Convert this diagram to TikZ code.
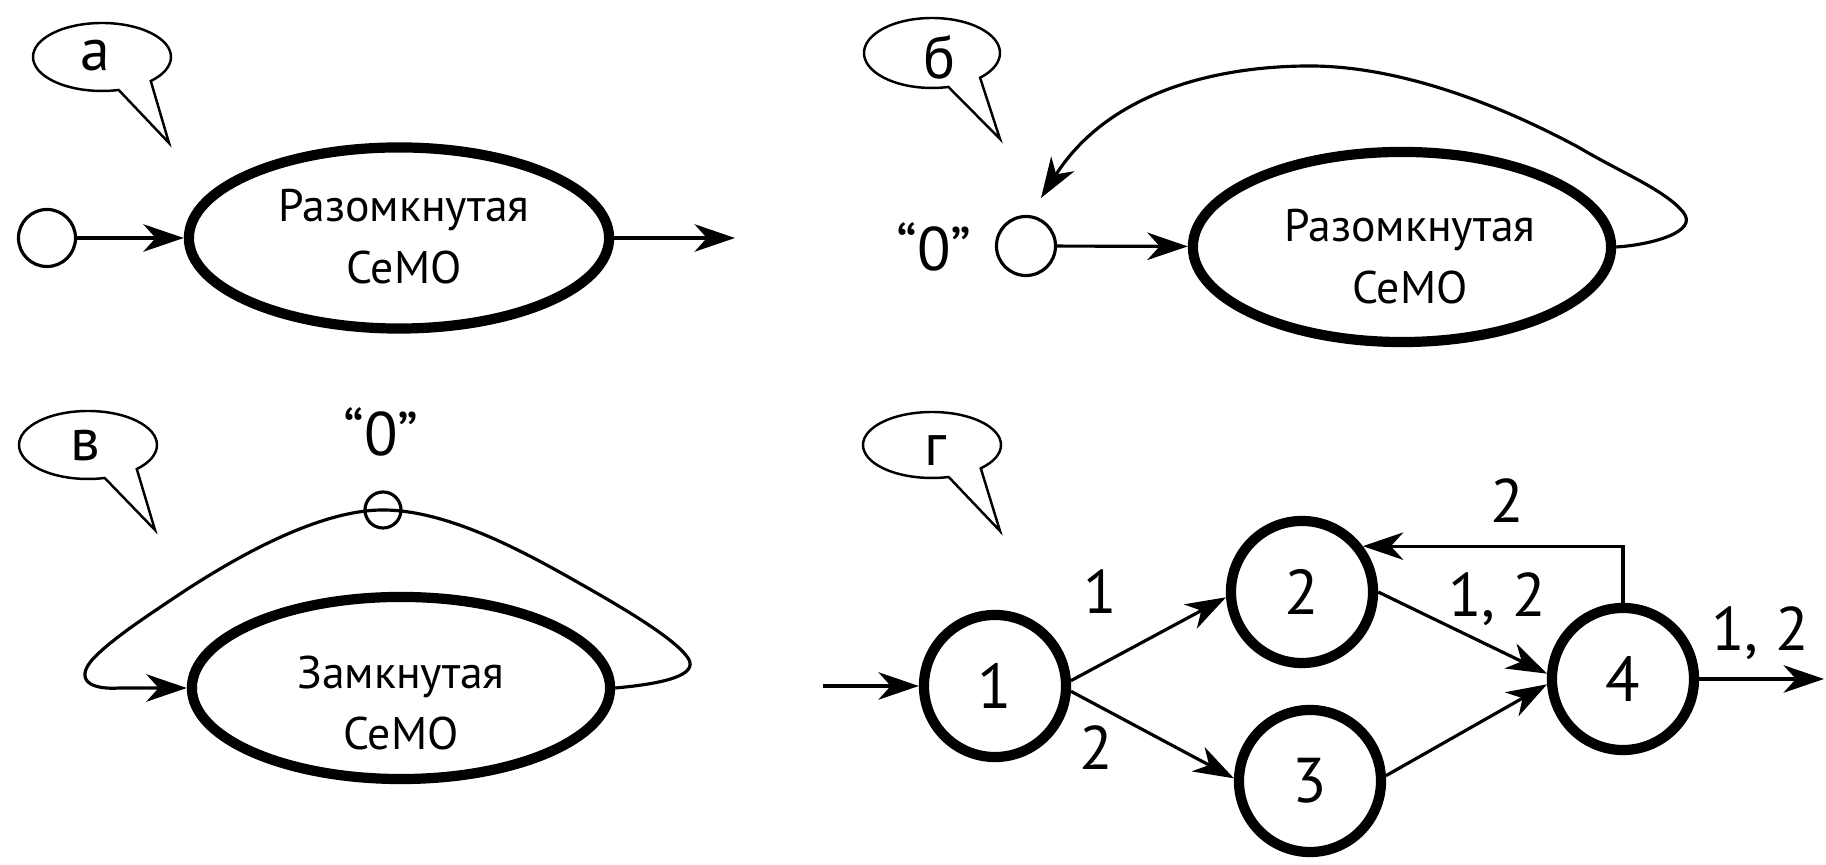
\documentclass[tikz,border=0pt]{standalone}
\usepackage{fontspec}
\setmainfont{PT Sans}
\usetikzlibrary{arrows.meta,shapes.geometric}
\begin{document}
\begin{tikzpicture}[x=0.01cm,y=0.01cm,
  conn/.style={line width=0.9pt},
  arr/.style={conn,-{Stealth[length=11.5pt,width=7.8pt,inset=3.5pt]}},
  bubbleline/.style={line width=0.7pt, line join=miter},
  bubtxt/.style={font=\fontsize{17}{20}\selectfont, inner sep=0pt},
  qtxt/.style={font=\fontsize{13}{17.6}\selectfont, align=center, inner sep=0pt},
  numtxt/.style={font=\fontsize{17.5}{21}\selectfont, inner sep=0pt},
  semo/.style={draw, ellipse, line width=2.9pt, inner sep=0pt},
  srcring/.style={draw, circle, conn, inner sep=0pt},
  station/.style={draw, circle, line width=2.9pt, minimum size=1.42cm, inner sep=0pt,
                  font=\fontsize{18}{21}\selectfont},
]
\useasboundingbox (0,0) rectangle (1826,-865);

% --- а: open network ---
\draw[bubbleline] (102,-57) ++(-45:69 and 34)
  arc[start angle=-45,end angle=284,x radius=69,y radius=34] -- (169,-143) -- cycle;
\node[bubtxt] (tagA) at (95,-56) {а};
\node[srcring, minimum size=0.57cm] (srcA) at (47,-238) {};
\node[semo, minimum width=4.2cm, minimum height=1.81cm] (ellA) at (399,-238) {};
\node[qtxt] (txtA) at (404,-237) {Разомкнутая\\СеМО};
\coordinate (outA) at (735,-238);
\draw[arr] (srcA) -- (ellA);
\draw[arr] (ellA) -- (outA);

% --- б: open network with feedback to the source ---
\draw[bubbleline] (932,-53) ++(-45:68 and 35)
  arc[start angle=-45,end angle=284,x radius=68,y radius=35] -- (1000,-139) -- cycle;
\node[bubtxt] (tagB) at (940,-57) {б};
\node[srcring, minimum size=0.59cm] (srcB) at (1026,-246) {};
\node[numtxt] (zeroB) at (934,-247) {“0”};
\node[semo, minimum width=4.18cm, minimum height=1.9cm] (ellB) at (1402,-247) {};
\node[qtxt] (txtB) at (1410,-257) {Разомкнутая\\СеМО};
\coordinate (tipB) at (1041,-198);
\draw[arr] (srcB) -- (ellB);
\draw[arr] (ellB.east) .. controls (1650,-245) and (1700,-232) .. (1683,-212)
  .. controls (1665,-190) and (1620,-172) .. (1578,-147)
  .. controls (1500,-105) and (1400,-66) .. (1310,-66)
  .. controls (1220,-66) and (1110,-90) .. (tipB);

% --- в: closed network ---
\draw[bubbleline] (88,-445) ++(-45:69 and 34)
  arc[start angle=-45,end angle=284,x radius=69,y radius=34] -- (155,-530) -- cycle;
\node[bubtxt] (tagC) at (85,-446) {в};
\node[numtxt] (zeroC) at (381,-432) {“0”};
\node[srcring, minimum size=0.36cm] (srcC) at (383,-510) {};
\node[semo, minimum width=4.18cm, minimum height=1.82cm] (ellC) at (401,-688) {};
\node[qtxt] (txtC) at (401,-703) {Замкнутая\\СеМО};
\draw[arr] (ellC.east) .. controls (660,-684) and (700,-676) .. (688,-658)
  .. controls (676,-640) and (630,-612) .. (586,-587)
  .. controls (530,-555) and (450,-510) .. (srcC.center)
  .. controls (320,-510) and (240,-555) .. (186,-590)
  .. controls (150,-614) and (110,-640) .. (92,-660)
  .. controls (75,-680) and (90,-690) .. (120,-688) -- (ellC.west);

% --- г: network of four stations ---
\draw[bubbleline] (932,-445) ++(-45:69 and 33)
  arc[start angle=-45,end angle=284,x radius=69,y radius=33] -- (1000,-531) -- cycle;
\node[bubtxt] (tagD) at (936,-451) {г};
\node[station] (n1) at (995,-686) {1};
\node[station] (n2) at (1302,-592) {2};
\node[station] (n3) at (1310,-781) {3};
\node[station] (n4) at (1623,-679) {4};
\coordinate (inD) at (823,-686);
\coordinate (outD) at (1824,-679);
\draw[arr] (inD) -- (n1);
\draw[arr] (n1.4) -- (n2.184);
\draw[arr] (n1.-4) -- (n3.178);
\draw[arr] (n2.east) -- (n4.176);
\draw[arr] (n3.4) -- (n4.184);
\draw[arr] (n4.north) |- (n2.37);
\draw[arr] (n4) -- (outD);
\node[numtxt] (l12) at (1100,-592) {1};
\node[numtxt] (l13) at (1096,-748) {2};
\node[numtxt] (l24) at (1497,-599) {1, 2};
\node[numtxt] (lout) at (1760,-633) {1, 2};
\node[numtxt] (lfb) at (1507,-501) {2};
\end{tikzpicture}
\end{document}
